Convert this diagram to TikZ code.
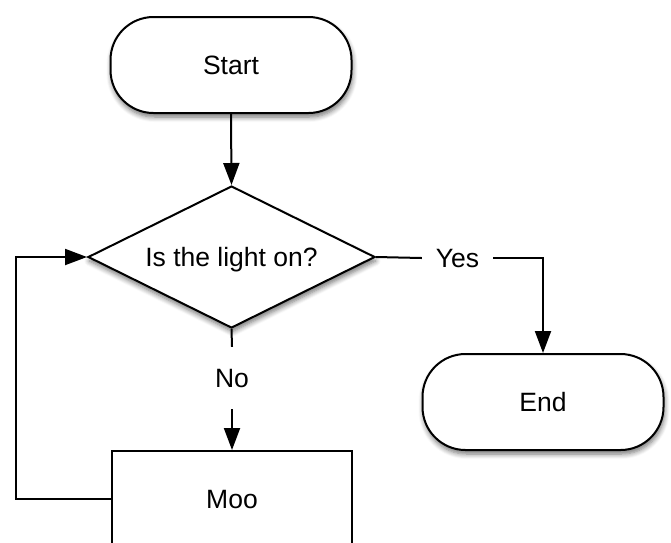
\documentclass[tikz,border=0pt]{standalone}
\usepackage{fontspec}
\setmainfont{Liberation Sans}
\usetikzlibrary{shapes.geometric,arrows.meta,shadows.blur}
\begin{document}
\begin{tikzpicture}[x=1pt,y=-1pt,
  every node/.style={font=\fontsize{26.5}{30}\selectfont, text height=19pt, text depth=0pt},
  shd/.style={blur shadow={shadow xshift=1pt, shadow yshift=-4pt, shadow blur steps=6, shadow blur radius=5pt, shadow opacity=55}},
  term/.style={draw, line width=2pt, fill=white, rounded corners=43pt, minimum width=241pt, minimum height=96pt, inner sep=0pt, shd},
  decis/.style={draw, line width=2pt, fill=white, diamond, aspect=2.02, minimum width=287pt, minimum height=142pt, inner sep=0pt, shd},
  proc/.style={draw, line width=2pt, fill=white, minimum width=240pt, minimum height=96pt, inner sep=0pt},
  lbl/.style={fill=white, inner xsep=0pt, inner ysep=0pt},
  conn/.style={line width=2pt},
  arr/.style={conn, -{Triangle[length=22pt,width=16pt]}}
]
\useasboundingbox (0,0) rectangle (671,542);
\clip (0,0) rectangle (671,542);
\node[term] (start) at (231,65) {Start};
\node[decis] (dec) at (231.5,257) {Is the light on?};
\node[term] (end) at (543,402) {End};
\node[proc] (moo) at (232,499) {Moo};
\node[lbl, minimum width=71pt] (yes) at (457.5,258) {Yes};
\node[lbl, minimum height=62pt] (no) at (232,378) {No};
\coordinate (yc) at (end.north |- yes);
\coordinate (lb) at (16,0 |- moo.west);
\coordinate (lt) at (16,0 |- dec.west);
\draw[arr] (start.south) -- (dec.north);
\draw[conn] (dec.east) -- (yes.west);
\draw[arr] (yes.east) -- (yc) -- (end.north);
\draw[conn] (dec.south) -- (no.north);
\draw[arr] (no.south) -- (moo.north);
\draw[arr] (moo.west) -- (lb) -- (lt) -- (dec.west);
\end{tikzpicture}
\end{document}
